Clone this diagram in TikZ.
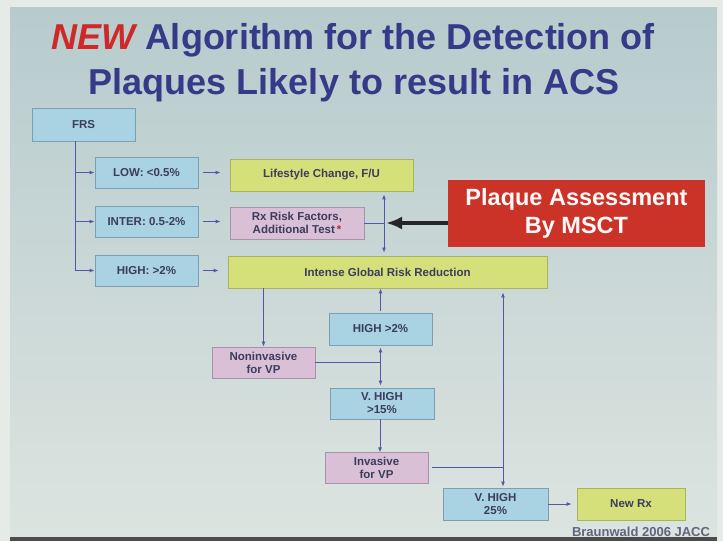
\documentclass[tikz,border=0pt]{standalone}
\usepackage{fontspec}
\setmainfont{Liberation Sans}
\usetikzlibrary{arrows.meta}
\definecolor{slidetop}{HTML}{B7CBCD}
\definecolor{slidebot}{HTML}{DCE4E0}
\definecolor{outer}{HTML}{E7EBE7}
\definecolor{bluefill}{HTML}{A9D2E2}
\definecolor{blueedge}{HTML}{7E9FB2}
\definecolor{greenfill}{HTML}{D5E07A}
\definecolor{greenedge}{HTML}{A6B55E}
\definecolor{pinkfill}{HTML}{D9C0D7}
\definecolor{pinkedge}{HTML}{A892A8}
\definecolor{plaquered}{HTML}{CC3328}
\definecolor{linkblue}{HTML}{5656A6}
\definecolor{boxtext}{HTML}{3C3C5C}
\definecolor{titleblue}{HTML}{363A88}
\definecolor{newred}{HTML}{D02828}
\begin{document}
\begin{tikzpicture}[x=1pt, y=-1pt,
    box/.style={draw, line width=0.8pt, inner sep=1pt, align=center,
      font=\fontsize{11.5}{13}\selectfont\bfseries, text=boxtext},
    bluebox/.style={box, fill=bluefill, draw=blueedge},
    greenbox/.style={box, fill=greenfill, draw=greenedge},
    pinkbox/.style={box, fill=pinkfill, draw=pinkedge},
    link/.style={linkblue, line width=0.9pt},
    arr/.style={link, -{Latex[length=5pt, width=4pt]}},
    dblarr/.style={link, {Latex[length=5pt, width=4pt]}-{Latex[length=5pt, width=4pt]}},
    titlefont/.style={font=\fontsize{36}{40}\selectfont\bfseries, text=titleblue}]
    \useasboundingbox (0,0) rectangle (723,541);
    \fill[outer] (0,0) rectangle (723,541);
    \shade[top color=slidetop, bottom color=slidebot] (10,7) rectangle (717,537);
    \fill[black!70] (10,537) rectangle (717,541);
    \node[titlefont, anchor=base] (title1) at (353,49)
      {\textcolor{newred}{\itshape NEW} Algorithm for the Detection of};
    \node[titlefont, anchor=base] (title2) at (354,94) {Plaques Likely to result in ACS};
    \node[bluebox, minimum width=103, minimum height=33] (frs) at (83.5,124.5) {FRS};
    \node[bluebox, minimum width=103, minimum height=31] (low) at (146.5,172.5) {LOW: <0.5\%};
    \node[bluebox, minimum width=103, minimum height=31] (inter) at (146.5,221.5) {INTER: 0.5-2\%};
    \node[bluebox, minimum width=103, minimum height=31] (high) at (146.5,270.5) {HIGH: >2\%};
    \node[greenbox, minimum width=183, minimum height=32] (life) at (321.5,175) {Lifestyle Change, F/U};
    \node[pinkbox, minimum width=134, minimum height=32] (rx) at (297,223)
      {Rx Risk Factors,\\Additional Test\,\textcolor{newred}{*}};
    \node[greenbox, minimum width=319, minimum height=32] (intense) at (387.5,272) {Intense Global Risk Reduction};
    \node[fill=plaquered, minimum width=257, minimum height=67, align=center, text=white!90!pink,
      font=\fontsize{23.5}{28}\selectfont\bfseries] (plaque) at (576.5,213.5) {Plaque Assessment\\By MSCT};
    \node[bluebox, minimum width=103, minimum height=32] (high2) at (380.5,329) {HIGH >2\%};
    \node[pinkbox, minimum width=103, minimum height=31] (nonin) at (263.5,362.5) {Noninvasive\\for VP};
    \node[bluebox, minimum width=104, minimum height=31] (vhigh) at (382,403.5) {V. HIGH\\>15\%};
    \node[pinkbox, minimum width=103, minimum height=31] (invas) at (376.5,467.5) {Invasive\\for VP};
    \node[bluebox, minimum width=105, minimum height=32] (vhigh25) at (495.5,504) {V. HIGH\\25\%};
    \node[greenbox, minimum width=108, minimum height=32] (newrx) at (631,504) {New Rx};
    \node[font=\fontsize{13}{14}\selectfont\bfseries, text=boxtext!80!white] (ref) at (641,532) {Braunwald 2006 JACC};
    \coordinate (trunk) at ([xshift=-8.5pt]frs.south);
    \coordinate (jx) at (384,223);
    \coordinate (kx) at (503,467.5);
    \draw[arr] (trunk) |- (low.west);
    \draw[arr] (trunk) |- (inter.west);
    \draw[arr] (trunk) |- (high.west);
    \draw[arr] ([xshift=5pt]low.east) -- ([xshift=-9pt]low.east -| life.west);
    \draw[arr] ([xshift=5pt]inter.east) -- ([xshift=-9pt]inter.east -| rx.west);
    \draw[arr] ([xshift=5pt]high.east) -- ([xshift=-9pt]high.east -| intense.west);
    \draw[dblarr, shorten <=3pt, shorten >=3pt] (life.south -| jx) -- (intense.north -| jx);
    \draw[link] (rx.east) -- (jx);
    \draw[line width=3.5pt, black!85, -{Latex[length=16pt, width=13pt]}] (plaque.west |- jx) -- ([xshift=2pt]jx);
    \draw[arr] (intense.south -| nonin) -- (nonin.north);
    \draw[arr, shorten <=2pt] (high2.north) -- (high2.north |- intense.south);
    \draw[link] (nonin.east) -- (nonin.east -| high2);
    \draw[dblarr, shorten <=2pt, shorten >=2pt] (high2.south) -- (high2.south |- vhigh.north);
    \draw[arr] (vhigh.south -| invas.north) ++(3.5,0) -- ++(0,33);
    \draw[link] ([xshift=4pt]invas.east) -- (kx);
    \draw[dblarr, shorten <=4pt, shorten >=1pt] (intense.south -| kx) -- (vhigh25.north -| kx);
    \draw[arr, shorten >=5pt] (vhigh25.east) -- (newrx.west);
\end{tikzpicture}
\end{document}
